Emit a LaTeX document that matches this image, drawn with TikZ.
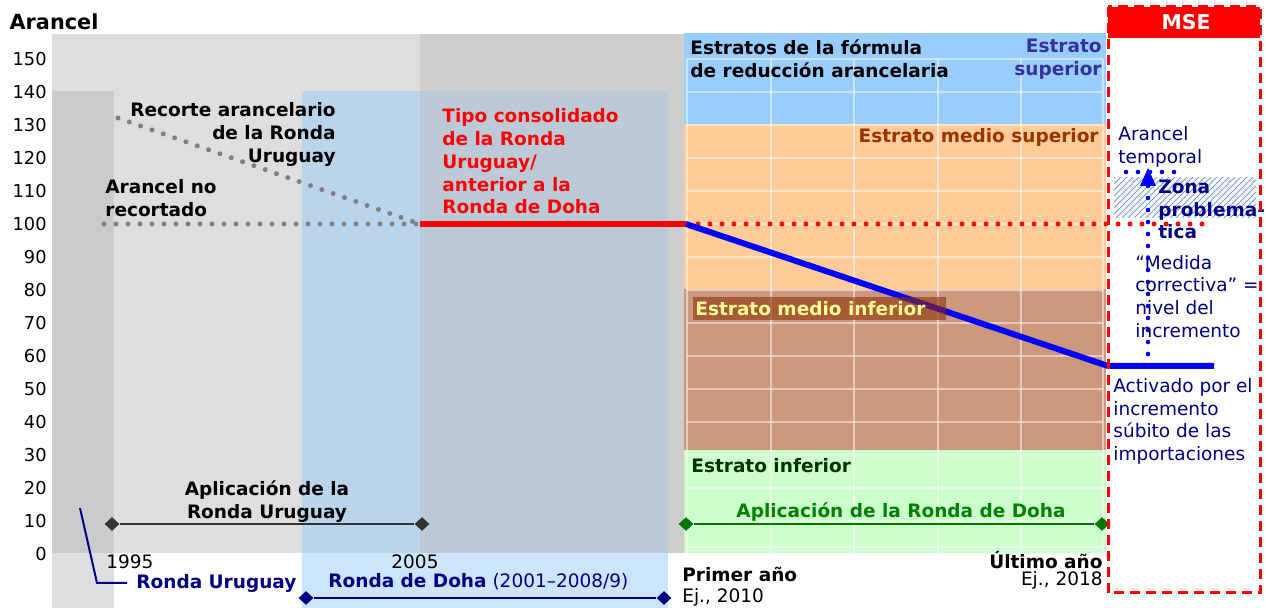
\documentclass[tikz,border=0pt]{standalone}
\usepackage{fontspec}
\setmainfont{DejaVu Sans}
\usetikzlibrary{shapes.geometric,arrows.meta,patterns}
\definecolor{lgray}{HTML}{DEDEDE}
\definecolor{mgray}{HTML}{CECECE}
\definecolor{cgray}{HTML}{CBCBCB}
\definecolor{bluecolA}{HTML}{BAD4EC}
\definecolor{bluecolB}{HTML}{BCCAD8}
\definecolor{bluelow}{HTML}{CCE4FC}
\definecolor{pblue}{HTML}{99CCFF}
\definecolor{porange}{HTML}{FFCC99}
\definecolor{pbrown}{HTML}{CC997F}
\definecolor{pgreen}{HTML}{CCFFCC}
\definecolor{boxbrown}{RGB}{141,48,4}
\definecolor{dgreen}{HTML}{003300}
\definecolor{mgreen}{HTML}{008000}
\definecolor{lgreen}{HTML}{007700}
\definecolor{slate}{HTML}{333399}
\definecolor{rust}{HTML}{993300}
\definecolor{navyc}{HTML}{000080}
\definecolor{dotc}{HTML}{808080}
\definecolor{hatchc}{HTML}{7799DD}
\definecolor{darkl}{HTML}{333333}
\definecolor{paleyel}{HTML}{FFFF99}
\tikzset{
  lbl/.style={inner sep=0pt, font=\fontsize{9.25}{11.4}\selectfont},
  blbl/.style={inner sep=0pt, font=\fontsize{9.25}{11.4}\selectfont\bfseries},
  ticklbl/.style={inner sep=0pt, anchor=east, font=\fontsize{8.9}{10}\selectfont},
  gridl/.style={draw=white, opacity=0.5, line width=0.6pt},
  graydots/.style={draw=dotc, line width=2.5pt, line cap=round, dash pattern=on 0pt off 6pt},
  reddots/.style={draw=red, line width=2.5pt, line cap=round, dash pattern=on 0pt off 6pt},
  bluedots/.style={draw=blue, line width=2.3pt, line cap=round, dash pattern=on 0pt off 6pt},
  diam/.style={diamond, fill=#1, inner sep=0pt, minimum width=7.5pt, minimum height=7pt},
}
\begin{document}
\begin{tikzpicture}[x=0.5pt,y=-0.5pt]
\useasboundingbox (0,0) rectangle (1266,608);
% ---------- backgrounds
\fill[lgray] (52,34) rectangle (420,553);
\fill[mgray] (420,34) rectangle (684,553);
\fill[cgray] (52,91) rectangle (114,553);
\fill[lgray] (52,553) rectangle (114,608);
\fill[bluecolA] (302,91) rectangle (420,553);
\fill[bluecolB] (420,91) rectangle (668,553);
\fill[bluelow] (302,553) rectangle (668,608);
% ---------- formula panel
\fill[pblue] (684,33) rectangle (1106,124);
\fill[porange] (684,124) rectangle (1106,289);
\fill[pbrown] (684,289) rectangle (1106,450);
\fill[pgreen] (684,450) rectangle (1106,553);
\foreach \k in {1,...,15} \draw[gridl] (687,{554-33*\k}) -- (1103,{554-33*\k});
\draw[gridl] (687,547) -- (1103,547);
\foreach \xx in {687,771,854,938,1021,1103} \draw[gridl] (\xx,59) -- (\xx,553);
% ---------- axis
\node[inner sep=0pt, font=\fontsize{10.4}{12}\selectfont\bfseries] (ytitle) at (54,22) {Arancel};
\foreach \k in {0,...,15} {
  \pgfmathtruncatemacro{\val}{10*\k}
  \node[ticklbl] (t\k) at (47,{554-33*\k}) {\val};
}
% ---------- coordinates of the tariff lines
\coordinate (g0) at (104,224);
\coordinate (s0) at (118,118);
\coordinate (p0) at (420,224);
\coordinate (p1) at (686,224);
\coordinate (p2) at (1108,366);
\coordinate (p3) at (1214,366);
\coordinate (r1) at (1206,224);
% dotted gray lines
\draw[graydots] (g0) -- (p0);
\draw[graydots] (s0) -- (p0);
% red bound line + red dotted
\draw[red, line width=3pt] (p0) -- (p1);
\draw[reddots] (p1) -- (r1);
% blue line
\draw[blue, line width=3pt] (p1) -- (p2) -- (p3);
% ---------- panel labels
\node[blbl, anchor=west, align=left] (estratos) at (690,58.5) {Estratos de la fórmula\\de reducción arancelaria};
\node[blbl, anchor=east, align=right, text=slate] (esup) at (1102,59.5) {Estrato\\superior};
\node[blbl, anchor=east, text=rust] (emsup) at (1099,137) {Estrato medio superior};
\fill[boxbrown, opacity=0.6] (693,297) rectangle (946,320);
\node[blbl, anchor=west, text=paleyel] (eminf) at (695,309) {Estrato medio inferior};
\node[blbl, anchor=west, text=dgreen] (einf) at (691,466) {Estrato inferior};
% ---------- left labels
\node[blbl, anchor=east, align=right] (recorte) at (336,134.5) {Recorte arancelario\\de la Ronda\\Uruguay};
\node[blbl, anchor=west, align=left] (norec) at (105,198.5) {Arancel no\\recortado};
\node[blbl, anchor=west, align=left, text=red] (tipo) at (442,161.5) {Tipo consolidado\\de la Ronda\\Uruguay/\\anterior a la\\Ronda de Doha};
% ---------- implementation periods
\node[diam=darkl] (u1) at (112,524) {};
\node[diam=darkl] (u2) at (422,524) {};
\draw[darkl, line width=1pt] (u1) -- (u2);
\node[blbl, align=center] (aplur) at (267,501.5) {Aplicación de la\\Ronda Uruguay};
\node[diam=lgreen] (d1) at (686,524) {};
\node[diam=lgreen] (d2) at (1102,524) {};
\draw[lgreen, line width=1pt] (d1) -- (d2);
\node[blbl, text=mgreen] (apld) at (901,512) {Aplicación de la Ronda de Doha};
% ---------- x labels
\node[lbl, anchor=west] (y1995) at (106,562) {1995};
\node[lbl] (y2005) at (415,562) {2005};
\coordinate (ru0) at (80,508);
\coordinate (ru1) at (97,583);
\coordinate (ru2) at (127,583);
\draw[navyc, line width=1pt] (ru0) -- (ru1) -- (ru2);
\node[blbl, anchor=west, text=navyc] (rur) at (136,583) {Ronda Uruguay};
\node[lbl, anchor=west, text=navyc] (rdoha) at (328,582) {\textbf{Ronda de Doha} (2001–2008/9)};
\node[diam=navyc] (n1) at (306,598) {};
\node[diam=navyc] (n2) at (664,598) {};
\draw[navyc, line width=1pt] (n1) -- (n2);
\node[blbl, anchor=west] (primer) at (682,574) {Primer año};
\node[lbl, anchor=west] (ej10) at (682,597) {Ej., 2010};
\node[blbl, anchor=east] (ultimo) at (1103,560) {Último año};
\node[lbl, anchor=east] (ej18) at (1103,580) {Ej., 2018};
% ---------- MSE box
\fill[red] (1108,7) rectangle (1260,38);
\node[inner sep=0pt, text=white, font=\fontsize{10.2}{12}\selectfont\bfseries] (mse) at (1186,22) {MSE};
\fill[pattern=north east lines, pattern color=hatchc] (1114,178) rectangle (1256,218);
\node[lbl, anchor=west, align=left, text=navyc] (atemp) at (1118,147) {Arancel\\temporal};
\coordinate (h0) at (1126,172);
\coordinate (h1) at (1178,172);
\draw[bluedots] (h0) -- (h1);
\coordinate (v0) at (1148,366);
\coordinate (v1) at (1148,186);
\coordinate (vt) at (1148,168);
\draw[bluedots] (v0) -- (v1);
\fill[blue] (1140,186) -- (1156,186) -- (vt) -- cycle;
\node[blbl, anchor=west, align=left, text=navyc] (zona) at (1158,209.5) {Zona\\problema-\\tica};
\node[lbl, anchor=west, align=left, text=navyc] (medida) at (1135,296.5) {“Medida\\correctiva” =\\nivel del\\incremento};
\node[lbl, anchor=west, align=left, text=navyc] (activ) at (1113,421.5) {Activado por el\\incremento\\súbito de las\\importaciones};
\draw[red, line width=1.5pt, dash pattern=on 5pt off 3pt] (1108,7) rectangle (1260,593);
\end{tikzpicture}
\end{document}
